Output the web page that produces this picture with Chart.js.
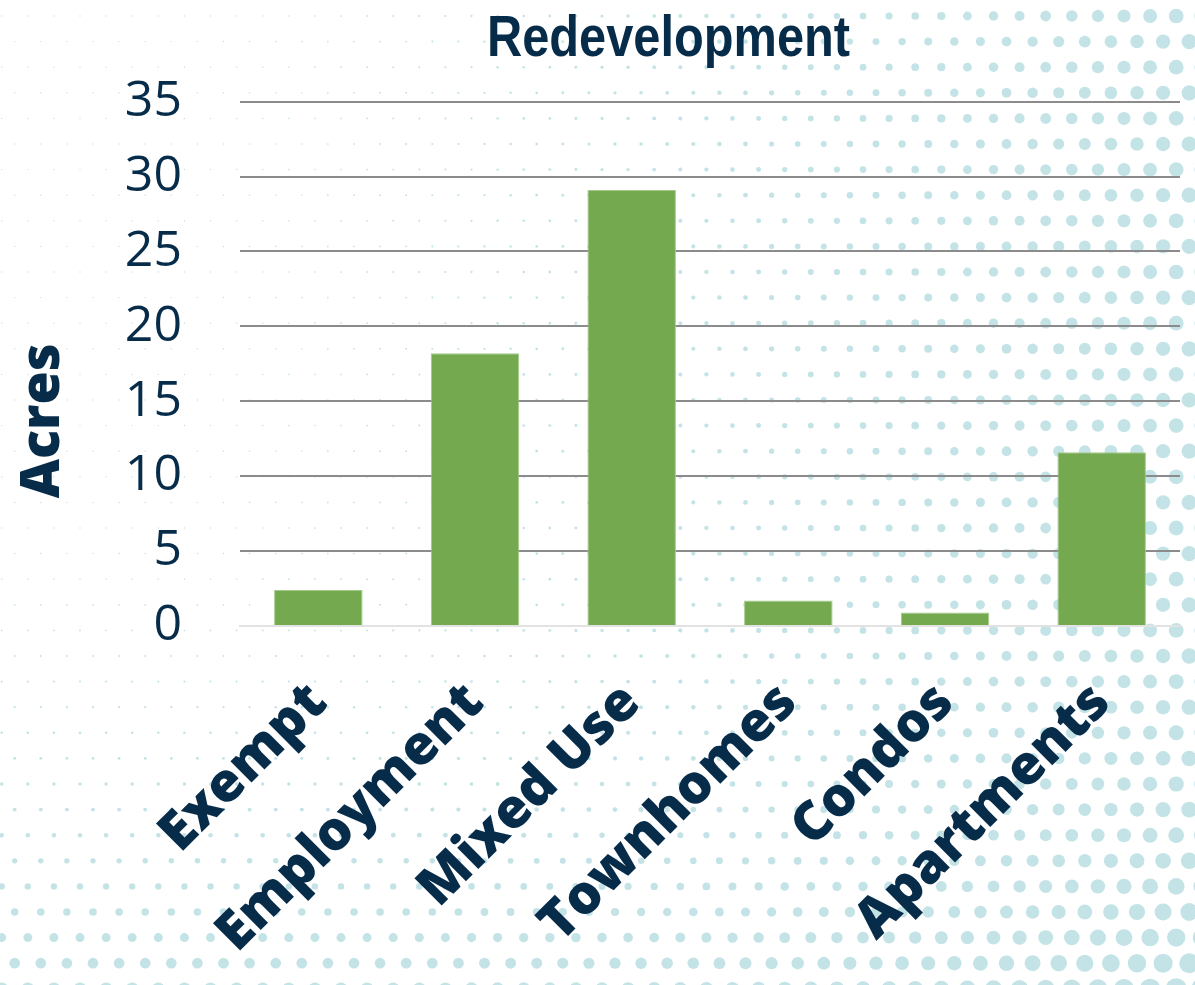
<!DOCTYPE html>
<html>
<head>
<meta charset="utf-8">
<script src="https://cdn.jsdelivr.net/npm/chart.js@4/dist/chart.umd.min.js"></script>
<style>
  html, body { margin: 0; padding: 0; background: #ffffff; }
  #wrap { position: relative; width: 1195px; height: 985px; }
</style>
</head>
<body>
<div id="wrap"><canvas id="c"></canvas></div>
<script>
// ---- data ----
const categories = ["Exempt", "Employment", "Mixed Use", "Townhomes", "Condos", "Apartments"];
const acres = [2.4, 18.2, 29.1, 1.7, 0.9, 11.6];
const yTicks = [0, 5, 10, 15, 20, 25, 30, 35];
const chartTitle = "Redevelopment";
const yTitle = "Acres";

const NAVY = "#072c4a";
const TITLE_FONT = "'Liberation Sans', Arial, sans-serif";

// decorative halftone dot background
const dotBg = {
  id: "dotBg",
  beforeDraw(chart) {
    const { ctx, width: W, height: H } = chart;
    ctx.save();
    ctx.fillStyle = "#ffffff";
    ctx.fillRect(0, 0, W, H);
    ctx.fillStyle = "#c4e3e6";
    for (let row = 0; ; row++) {
      const y = 16 + row * 25.6;
      if (y > H + 12) break;
      const x0 = row % 2 ? 14.7 : 1.7;
      for (let x = x0; x < W + 12; x += 26.1) {
        const u = x / W, v = y / H;
        const fx = 7 * Math.pow(u, 3);
        const fy = 5.5 * Math.pow(Math.max(0, v), 7.6);
        const r = 0.7 + Math.pow(Math.pow(fx, 1.5) + Math.pow(fy, 1.5), 2 / 3);
        ctx.beginPath();
        ctx.arc(x, y, r, 0, Math.PI * 2);
        ctx.fill();
      }
    }
    ctx.restore();
  }
};

// place / condense the chart title and shift the y-axis title like the reference
const placeTitles = {
  id: "placeTitles",
  afterLayout(chart) {
    const t = chart.titleBlock;
    if (t) {
      t.left = 157; t.right = 1180;
      if (!t._patched) {
        const orig = t.draw;
        t.draw = function () {
          const ctx = this.ctx;
          const cx = (this.left + this.right) / 2;
          ctx.save();
          ctx.font = "bold 58px " + TITLE_FONT;
          const w = ctx.measureText(chartTitle).width;
          const k = 363 / w;
          ctx.translate(cx, 0); ctx.scale(k, 1); ctx.translate(-cx, 0);
          orig.call(this);
          ctx.restore();
        };
        t._patched = true;
      }
    }
    const y = chart.scales.y;
    if (y && !y._patched) {
      const origT = y.drawTitle;
      y.drawTitle = function () {
        const ctx = this.ctx;
        ctx.save();
        ctx.translate(0, 57);
        origT.apply(this, arguments);
        ctx.restore();
      };
      y._patched = true;
    }
  }
};

new Chart(document.getElementById("c"), {
  type: "bar",
  data: {
    labels: categories,
    datasets: [{
      data: acres,
      backgroundColor: "#74a94f",
      borderColor: "#a3c98a",
      borderWidth: 1,
      barPercentage: 0.565,
      categoryPercentage: 1.0
    }]
  },
  plugins: [dotBg, placeTitles],
  options: {
    responsive: true,
    maintainAspectRatio: false,
    animation: false,
    layout: { padding: { left: 0, right: 15, top: 0, bottom: 0 } },
    plugins: {
      legend: { display: false },
      tooltip: { enabled: false },
      title: {
        display: true,
        text: chartTitle,
        color: NAVY,
        font: { family: TITLE_FONT, size: 58, weight: "bold" },
        padding: { top: 5, bottom: 27 }
      }
    },
    scales: {
      x: {
        grid: { display: false },
        border: { display: true, color: "#e2e2e2", width: 2 },
        ticks: {
          autoSkip: false,
          minRotation: 45,
          maxRotation: 45,
          padding: 37,
          color: NAVY,
          font: { family: "'Open Sans', sans-serif", size: 54, weight: "800" }
        },
        afterFit(s) { s.height = 985 - 626; }
      },
      y: {
        min: 0,
        max: 35,
        afterBuildTicks(s) { s.ticks = yTicks.map(v => ({ value: v })); },
        grid: {
          color: c => (c.tick && c.tick.value === 0) ? "rgba(0,0,0,0)" : "#8b8b8b",
          lineWidth: 2,
          drawTicks: false
        },
        border: { display: false },
        ticks: {
          padding: 58,
          color: NAVY,
          font: { family: "'Open Sans', sans-serif", size: 50, weight: "400" }
        },
        title: {
          display: true,
          text: yTitle,
          color: NAVY,
          font: { family: "'Open Sans', sans-serif", size: 54, weight: "800" },
          padding: { top: 11, bottom: 0 }
        },
        afterFit(s) { s.width = 240; }
      }
    }
  }
});
</script>
</body>
</html>
